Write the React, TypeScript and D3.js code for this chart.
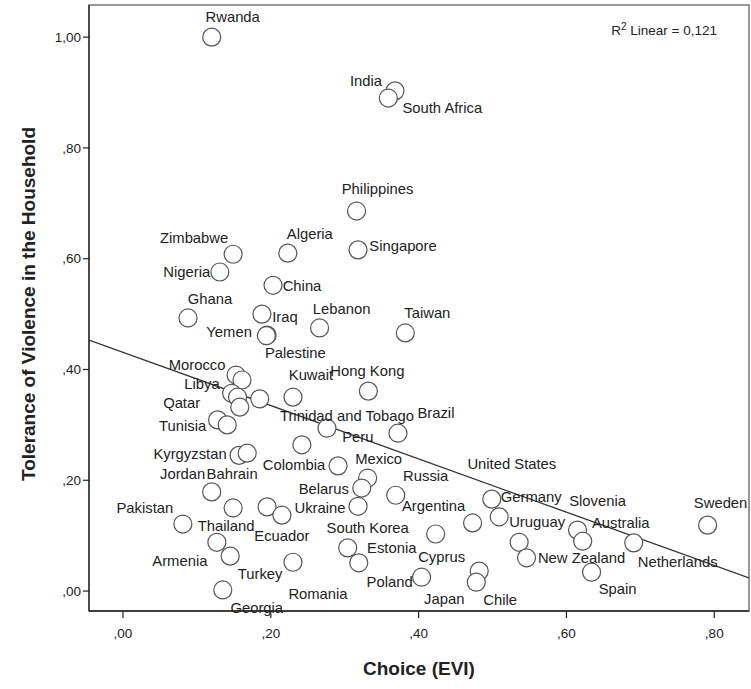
import * as d3 from "d3"

// countries ("" = unlabelled point hidden behind its neighbours)
const countries = [
  "Rwanda", "India", "South Africa", "Philippines", "Zimbabwe", "Algeria", "Singapore",
  "Nigeria", "China", "Ghana", "Iraq", "Yemen", "Palestine", "Lebanon", "Taiwan",
  "Hong Kong", "Kuwait", "Morocco", "Libya", "Qatar", "", "", "", "Tunisia", "",
  "Kyrgyzstan", "", "Trinidad and Tobago", "Peru", "Brazil", "Colombia", "Mexico",
  "Belarus", "Ukraine", "Russia", "Argentina", "Cyprus", "United States", "Germany",
  "Uruguay", "New Zealand", "Slovenia", "Australia", "Spain", "Netherlands", "Sweden",
  "Chile", "Japan", "Poland", "South Korea", "Estonia", "Jordan", "Bahrain", "Pakistan",
  "Thailand", "Ecuador", "Armenia", "Turkey", "Romania", "Georgia",
]

// Choice (EVI)
const choice = [
  0.12, 0.368, 0.359, 0.316, 0.149, 0.223, 0.318,
  0.131, 0.203, 0.088, 0.188, 0.195, 0.194, 0.266, 0.382,
  0.332, 0.23, 0.153, 0.161, 0.147, 0.155, 0.158, 0.185, 0.128, 0.141,
  0.157, 0.168, 0.276, 0.242, 0.372, 0.291, 0.331,
  0.323, 0.318, 0.369, 0.473, 0.423, 0.499, 0.509,
  0.536, 0.546, 0.615, 0.622, 0.634, 0.691, 0.791,
  0.482, 0.478, 0.404, 0.304, 0.319, 0.12, 0.149, 0.081,
  0.195, 0.215, 0.127, 0.145, 0.23, 0.135,
]

// Tolerance of Violence in the Household
const tolerance = [
  1.0, 0.903, 0.89, 0.686, 0.608, 0.61, 0.616,
  0.576, 0.552, 0.493, 0.5, 0.462, 0.461, 0.475, 0.466,
  0.361, 0.35, 0.39, 0.381, 0.357, 0.35, 0.332, 0.347, 0.309, 0.3,
  0.245, 0.249, 0.294, 0.264, 0.285, 0.226, 0.204,
  0.186, 0.153, 0.173, 0.123, 0.103, 0.166, 0.134,
  0.088, 0.06, 0.11, 0.09, 0.034, 0.087, 0.119,
  0.036, 0.016, 0.025, 0.078, 0.051, 0.179, 0.15, 0.121,
  0.152, 0.137, 0.088, 0.063, 0.052, 0.002,
]

const xTicks = [0, 0.2, 0.4, 0.6, 0.8]
const yTicks = [0, 0.2, 0.4, 0.6, 0.8, 1.0]

// linear fit shown in the chart
const fitIntercept = 0.431
const fitSlope = -0.481
const rSquared = "0,121"

// where SPSS put each label, px from the point (label centre)
const labelOffset: Record<string, [number, number]> = {
  Rwanda: [21, -20], India: [-29, -10], "South Africa": [54, 10], Philippines: [21, -22],
  Zimbabwe: [-39, -16], Algeria: [22, -19], Singapore: [45, -4], Nigeria: [-33, 0],
  China: [29, 1], Ghana: [22, -19], Iraq: [23, 3], Yemen: [-38, -3], Palestine: [29, 17],
  Lebanon: [22, -19], Taiwan: [22, -20], "Hong Kong": [-1, -20], Kuwait: [18, -22],
  Morocco: [-39, -10], Libya: [-40, 4], Qatar: [-50, 10], Tunisia: [-35, 6],
  Kyrgyzstan: [-49, -2], "Trinidad and Tobago": [20, -12], Peru: [56, -8],
  Brazil: [38, -20], Colombia: [-44, -1], Mexico: [11, -19], Belarus: [-38, 1],
  Ukraine: [-38, 2], Russia: [30, -19], Argentina: [-39, -17], Cyprus: [6, 23],
  "United States": [20, -35], Germany: [32, -20], Uruguay: [18, -20],
  "New Zealand": [55, 0], Slovenia: [20, -29], Australia: [38, -18], Spain: [26, 17],
  Netherlands: [44, 19], Sweden: [13, -22], Chile: [21, 29], Japan: [-32, 17],
  Poland: [-32, 5], "South Korea": [20, -20], Estonia: [33, -15], Jordan: [-29, -18],
  Bahrain: [-1, -34], Pakistan: [-38, -16], Thailand: [-41, 19], Ecuador: [0, 21],
  Armenia: [-37, 19], Turkey: [30, 18], Romania: [25, 32], Georgia: [34, 18],
}

const W = 751
const H = 689
const left = 89
const right = 749
const top = 5
const bottom = 611

const fmt = (v: number) => {
  const s = v.toFixed(2).replace(".", ",")
  return s.startsWith("0") ? s.slice(1) : s
}

export default function App() {
  const x = d3.scaleLinear().domain([-0.046, 0.847]).range([left, right])
  const y = d3.scaleLinear().domain([-0.036, 1.058]).range([bottom, top])

  const points = countries.map((name, i) => ({ name, cx: choice[i], cy: tolerance[i] }))

  const fit = d3
    .line<number>()
    .x((d) => x(d))
    .y((d) => y(fitIntercept + fitSlope * d))(x.domain())

  const font = "Arial, 'Liberation Sans', sans-serif"

  return (
    <svg
      width={W}
      height={H}
      style={{ position: "absolute", left: 0, top: 0, background: "#fff", fontFamily: font }}
    >
      <defs>
        <clipPath id="plot">
          <rect x={left} y={top} width={right - left} height={bottom - top} />
        </clipPath>
      </defs>

      {/* frame */}
      <rect x={left} y={top} width={right - left} height={bottom - top} fill="none" stroke="#777" strokeWidth={1.5} />
      <line x1={left} x2={left} y1={top} y2={bottom} stroke="#222" strokeWidth={1.3} />
      <line x1={left} x2={right} y1={bottom} y2={bottom} stroke="#222" strokeWidth={1.3} />

      {/* y axis */}
      {yTicks.map((t) => (
        <g key={t} transform={`translate(0,${y(t)})`}>
          <line x1={left - 6} x2={left} stroke="#222" strokeWidth={1.2} />
          <text x={left - 8} dy="0.35em" textAnchor="end" fontSize={13.5} fill="#222">
            {fmt(t)}
          </text>
        </g>
      ))}

      {/* x axis */}
      {xTicks.map((t) => (
        <g key={t} transform={`translate(${x(t)},0)`}>
          <line y1={bottom} y2={bottom + 7} stroke="#222" strokeWidth={1.2} />
          <text y={bottom + 22} dy="0.35em" textAnchor="middle" fontSize={13.5} fill="#222">
            {fmt(t)}
          </text>
        </g>
      ))}

      <text x={(left + right) / 2} y={668} dy="0.35em" textAnchor="middle" fontSize={19} fontWeight="bold" fill="#222">
        Choice (EVI)
      </text>
      <text
        transform={`translate(28,${(top + bottom) / 2 - 4}) rotate(-90)`}
        dy="0.35em"
        textAnchor="middle"
        fontSize={19}
        fontWeight="bold"
        fill="#222"
      >
        Tolerance of Violence in the Household
      </text>

      {/* regression line */}
      <path d={fit ?? ""} fill="none" stroke="#333" strokeWidth={1.3} clipPath="url(#plot)" />

      {/* points */}
      {points.map((p, i) => (
        <circle key={i} cx={x(p.cx)} cy={y(p.cy)} r={9} fill="#fff" stroke="#555" strokeWidth={1.2} />
      ))}

      {/* labels */}
      {points
        .filter((p) => p.name !== "")
        .map((p) => {
          const [dx, dy] = labelOffset[p.name] ?? [0, -18]
          return (
            <text
              key={p.name}
              x={x(p.cx) + dx}
              y={y(p.cy) + dy}
              dy="0.35em"
              textAnchor="middle"
              fontSize={14.8}
              fill="#222"
            >
              {p.name}
            </text>
          )
        })}

      <text x={717} y={30} dy="0.35em" textAnchor="end" fontSize={13.5} fill="#222">
        R<tspan dy="-5" fontSize={10}>2</tspan>
        <tspan dy="5"> Linear = {rSquared}</tspan>
      </text>
    </svg>
  )
}
